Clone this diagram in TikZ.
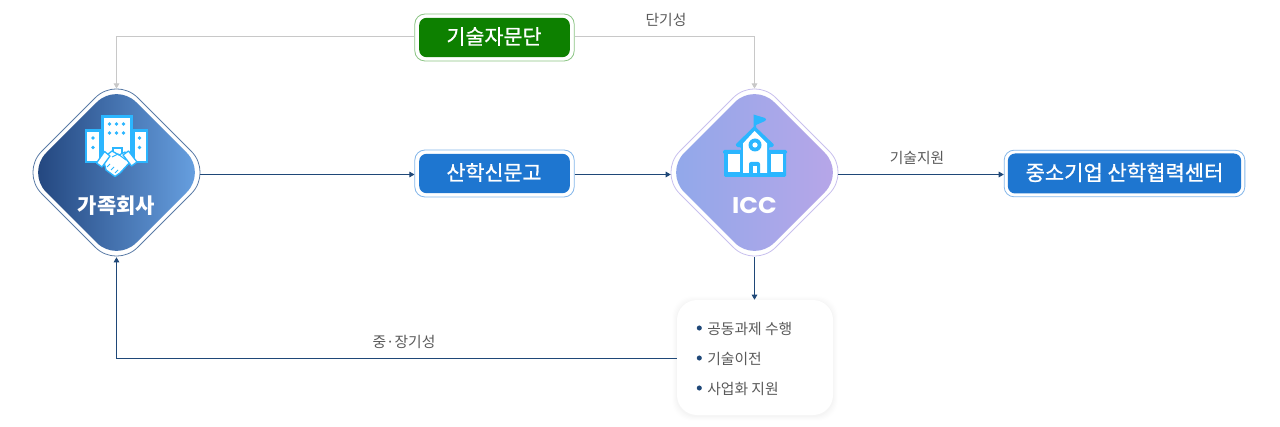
\documentclass[tikz,border=0pt]{standalone}
\usepackage{fontspec}
\usetikzlibrary{arrows.meta,calc}
\setmainfont{Noto Sans CJK KR}
\newfontfamily\iccfont{Poppins}
\newfontfamily\medfont{Noto Sans CJK KR}[FakeBold=0.9]
\definecolor{navy}{HTML}{1F4878}
\definecolor{lineg}{HTML}{C8C8C8}
\definecolor{txtg}{HTML}{5A5A5A}
\definecolor{iconb}{HTML}{2BB6FF}
\definecolor{gfill}{HTML}{0D8000}
\definecolor{gedge}{HTML}{8CC585}
\definecolor{bfill}{HTML}{1E76D0}
\definecolor{bedge}{HTML}{85B7EA}
\definecolor{famedge}{HTML}{5A7BA6}
\definecolor{famleft}{HTML}{1F4179}
\definecolor{famright}{HTML}{6BA5E6}
\definecolor{iccedge}{HTML}{C8C0EE}
\definecolor{iccleft}{HTML}{8FA8EA}
\definecolor{iccright}{HTML}{B9A6E8}
\newcommand{\rdiam}[5][]{% opts, cx, cy, half, R
  \path[#1,rounded corners=#5*0.75pt] ({#2+#4/2},{#3-#4/2}) -- ({#2+#4},#3) -- (#2,{#3+#4}) -- ({#2-#4},#3) -- (#2,{#3-#4}) -- cycle;}
\tikzset{
  x=0.75pt,y=-0.75pt,
  anchorbox/.style={rectangle,draw=none,fill=none,inner sep=0pt,minimum width=125.25pt,minimum height=123.75pt},
  outerbox/.style={rectangle,draw=#1,fill=white,line width=0.6pt,rounded corners=7.5pt,inner sep=0pt},
  innerbox/.style={rectangle,fill=#1,rounded corners=5.5pt,inner sep=0pt},
  boxtitle/.style={text=white,inner sep=0pt,font=\medfont\fontsize{15.5}{18}\selectfont},
  txtlabel/.style={text=txtg,font=\fontsize{11.1}{13}\selectfont,inner sep=0pt},
  darkline/.style={draw=navy,line width=0.75pt,-{Triangle[length=3.8pt,width=4.2pt]}},
  grayline/.style={draw=lineg,line width=0.75pt,-{Triangle[length=3.8pt,width=4.2pt]}},
  bld/.style={draw=iconb,fill=white,line width=1.9pt},
  dotb/.style={fill=iconb,draw=none},
  bulletdot/.style={circle,fill=navy,inner sep=0pt,minimum size=3.8pt},
}
\begin{document}
\begin{tikzpicture}
\useasboundingbox (0,0) rectangle (1280,427);
\fill[white] (0,0) rectangle (1280,427);

% ---------- family company diamond
\rdiam[draw=famedge,fill=white,line width=0.6pt]{116.5}{172.5}{96}{30}
\rdiam[shade,left color=famleft,right color=famright]{116.5}{172.5}{90}{28}
\node[anchorbox] (fam) at (116.5,174.5) {};
% buildings
\draw[bld] (86,130.5) rectangle (100,162);
\draw[bld] (134,130.5) rectangle (147,162);
\draw[bld] (102.5,116.5) rectangle (131.5,160);
\foreach \x/\y in {93/138,93/147.5,139.5/138,139.5/147.5,
  109.5/124,116.5/124,123.5/124,109.5/133,116.5/133,123.5/133}
  \fill[dotb] (\x,\y) circle (1.9);
\draw[bld,line width=1.5pt] (112.5,148) rectangle (121.5,158);
% handshake
\draw[iconb,fill=white,line width=1pt,line join=round]
  (103,158) -- (112,151) -- (119,155) -- (125,152) -- (132,160) -- (120,173) -- (115,176.5) -- (106,170) -- cycle;
\draw[iconb,fill=white,line width=1pt,line join=round] (96.5,163) -- (104.5,151.5) -- (110,156) -- (102,167) -- cycle;
\draw[iconb,fill=white,line width=1pt,line join=round] (128.5,151) -- (137,162) -- (131.5,166) -- (123,155) -- cycle;
\draw[iconb,line width=0.8pt] (112,157) -- (118,154) -- (126,160);
\draw[iconb,line width=0.7pt] (107,167) -- (110,164) (111,170) -- (114,167) (115,173) -- (118,170);
\node[text=white,inner sep=0pt,font=\bfseries\fontsize{15.75}{18}\selectfont] (famt) at (116.5,206) {가족회사};

% ---------- ICC diamond
\rdiam[draw=iccedge,fill=white,line width=0.6pt]{754.5}{172.5}{96}{30}
\rdiam[shade,left color=iccleft,right color=iccright]{754.5}{172.5}{90}{28}
\node[anchorbox] (icc) at (754.5,174.5) {};
% school icon
\fill[iconb] (753.5,114.5) -- (765,118) to[out=0,in=0,looseness=1.2] (765,121) -- (756,125) -- (756,130) -- (753.5,130) -- cycle;
\fill[iconb,rounded corners=1pt] (723,150) rectangle (787,154);
\fill[iconb,rounded corners=1pt] (724,152) rectangle (786,177);
\fill[white] (727.5,154.5) rectangle (739.5,172.5);
\fill[white] (770.5,154.5) rectangle (782.5,172.5);
\fill[iconb,rounded corners=1pt] (754.5,126) -- (774.5,145) -- (771,148) -- (769,146.5) -- (769,177) -- (741,177) -- (741,146.5) -- (739,148) -- (735,145) -- cycle;
\fill[white] (754.5,131) -- (767,143.5) -- (767,173) -- (743,173) -- (743,143.5) -- cycle;
\fill[iconb] (755,145) circle (6.5);
\fill[white] (755,145) circle (2.6);
\fill[iconb] (749,173.5) -- (749,164) to[out=90,in=180] (751,162) -- (758,162) to[out=0,in=90] (760,164) -- (760,173.5) -- cycle;
\fill[white] (752.5,173) rectangle (756.5,166);
\node[text=white,inner sep=0pt,font=\iccfont\bfseries\fontsize{17}{20}\selectfont] (icct) at (754.5,205.5) {\scalebox{1.08}[1]{ICC}};

% ---------- boxes
\node[outerbox=gedge,minimum width=119.5pt,minimum height=35.2pt] (adv) at (494.5,37.5) {};
\node[innerbox=gfill,minimum width=113pt,minimum height=29.5pt] (advf) at (494.5,37.5) {};
\node[boxtitle] (advt) at (494,36.5) {기술자문단};
\node[outerbox=bedge,minimum width=119.5pt,minimum height=35.2pt] (news) at (494.5,173.5) {};
\node[innerbox=bfill,minimum width=113pt,minimum height=29.5pt] (newsf) at (494.5,173.5) {};
\node[boxtitle] (newst) at (494,172.5) {산학신문고};
\node[outerbox=bedge,minimum width=180.5pt,minimum height=35pt] (sme) at (1124.5,173.5) {};
\node[innerbox=bfill,minimum width=175pt,minimum height=30pt] (smef) at (1124.5,173.5) {};
\node[boxtitle,font=\medfont\fontsize{15.75}{19}\selectfont] (smet) at (1124.5,172.5) {중소기업 산학협력센터};

% ---------- card
\foreach \s/\o in {5/0.004,4/0.006,3/0.007,2/0.009,1/0.012}
  \fill[black,opacity=\o,rounded corners=15pt] ({677-\s},{300-\s+1}) rectangle ({833+\s},{415+\s+1});
\node[rectangle,fill=white,rounded corners=15pt,minimum width=117pt,minimum height=86.25pt,inner sep=0pt] (card) at (755,357.5) {};
\node[bulletdot] (b1) at (699.3,328) {};
\node[bulletdot] (b2) at (699.3,358) {};
\node[bulletdot] (b3) at (699.3,388) {};
\node[txtlabel,anchor=west] (l1) at (707,328.5) {공동과제 수행};
\node[txtlabel,anchor=west] (l2) at (707,358.5) {기술이전};
\node[txtlabel,anchor=west] (l3) at (707,388.5) {사업화 지원};

% ---------- connectors
\draw[grayline,shorten >=2.4pt] ($(adv.west)+(0,-1)$) -| (fam.north);
\draw[grayline,shorten >=2.4pt] ($(adv.east)+(0,-1)$) -| (icc.north);
\draw[darkline] (fam.east) -- (fam.east -| news.west);
\draw[darkline] (news.east |- icc.west) -- (icc.west);
\draw[darkline] (icc.east) -- (icc.east -| sme.west);
\draw[darkline] (icc.south) -- (icc.south |- card.north);
\draw[darkline] ($(card.west)+(0,1)$) -| (fam.south);

% ---------- labels
\node[txtlabel] (t1) at (666,19.5) {단기성};
\node[txtlabel] (t2) at (917,157.5) {기술지원};
\node[txtlabel] (t3) at (404,341.5) {중·장기성};
\end{tikzpicture}
\end{document}
